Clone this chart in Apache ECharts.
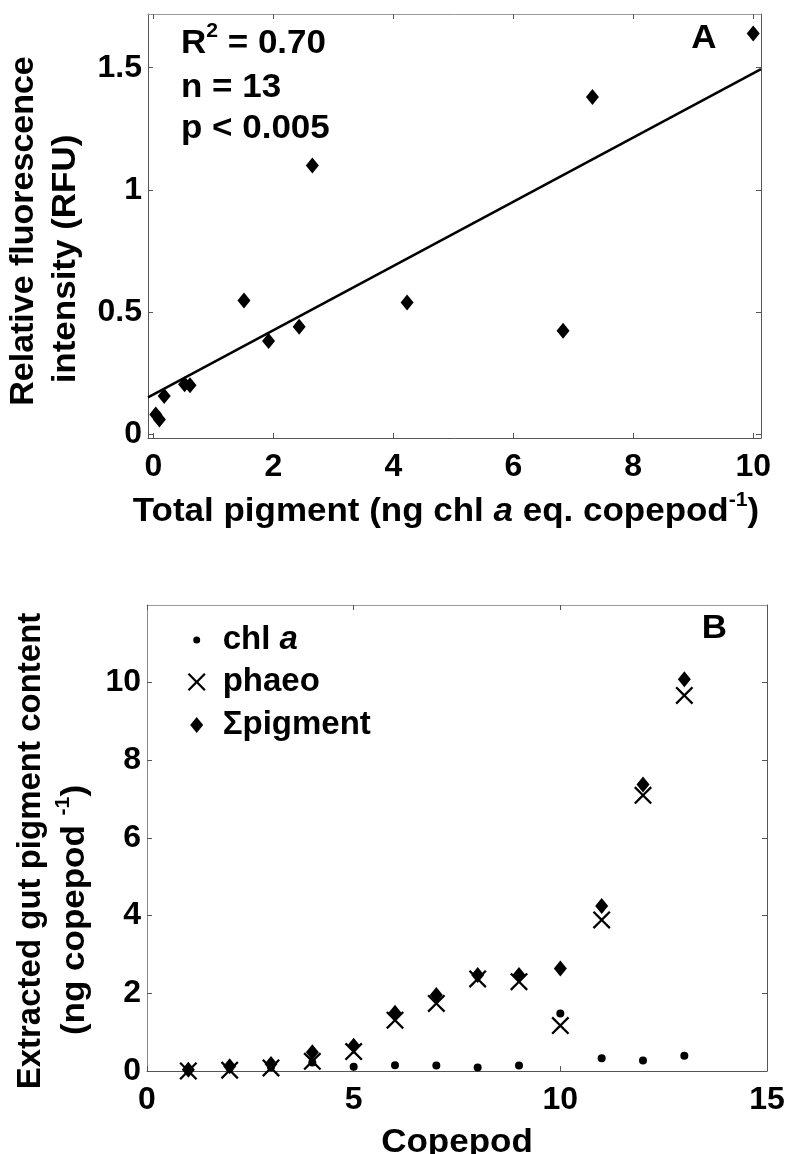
<!DOCTYPE html>
<html>
<head>
<meta charset="utf-8">
<script src="https://cdn.jsdelivr.net/npm/echarts@6/dist/echarts.min.js"></script>
<style>
  html, body { margin: 0; padding: 0; background: #fff; }
  #chart { width: 788px; height: 1154px; }
</style>
</head>
<body>
<div id="chart"></div>
<script>
// Panel A: gut fluorescence against extracted total pigment
const totalPigment = [0.04, 0.10, 0.18, 0.52, 0.61, 1.51, 1.92, 2.43, 2.65, 4.23, 6.83, 7.32, 10.0];
const fluorescence = [0.08, 0.06, 0.156, 0.204, 0.20, 0.547, 0.381, 0.44, 1.10, 0.539, 0.423, 1.38, 1.64];

// Panel B: extracted pigment per copepod
const copepod    = [1, 2, 3, 4, 5, 6, 7, 8, 9, 10, 11, 12, 13];
const chlA       = [0.03, 0.08, 0.10, 0.22, 0.11, 0.15, 0.14, 0.09, 0.14, 1.48, 0.33, 0.27, 0.39];
const phaeo      = [0.00, 0.02, 0.08, 0.25, 0.50, 1.31, 1.74, 2.37, 2.30, 1.17, 3.89, 7.10, 9.67];
const sumPigment = [0.03, 0.12, 0.18, 0.48, 0.65, 1.50, 1.96, 2.47, 2.47, 2.64, 4.25, 7.38, 10.09];

// Tick positions
const ticksAx = [0, 2, 4, 6, 8, 10];
const ticksAy = [0, 0.5, 1, 1.5];
const ticksBx = [0, 5, 10, 15];
const ticksBy = [0, 2, 4, 6, 8, 10];

const FONT = '"Liberation Sans", Arial, Helvetica, sans-serif';
const TICK_SIZE = 32;
const TITLE_SIZE = 33;
const TEXT_STRETCH = 1.06;

// Axis limits
const A_X = [-0.09, 10.13];
const A_Y = [-0.016, 1.72];
const B_X = [0, 15];
const B_Y = [0, 12];

// Least-squares fit for panel A
function linearFit(xs, ys) {
  const n = xs.length;
  const mx = xs.reduce((s, v) => s + v, 0) / n;
  const my = ys.reduce((s, v) => s + v, 0) / n;
  let sxy = 0, sxx = 0;
  for (let i = 0; i < n; i++) {
    sxy += (xs[i] - mx) * (ys[i] - my);
    sxx += (xs[i] - mx) * (xs[i] - mx);
  }
  const slope = sxy / sxx;
  return { slope, intercept: my - slope * mx };
}
const fit = linearFit(totalPigment, fluorescence);
const fitLine = A_X.map(x => [x, fit.intercept + fit.slope * x]);

// Marker shapes
const CROSS = 'path://M0,1.8L1.8,0L10,8.2L18.2,0L20,1.8L11.8,10L20,18.2L18.2,20L10,11.8L1.8,20L0,18.2L8.2,10Z';
const DIAMOND = 'path://M6.5,0L13,8L6.5,16L0,8Z';

function makeAxis(kind, position, gridIndex, range, ticks, showLabel, lineColor) {
  const isX = kind === 'x';
  return {
    type: 'value',
    gridIndex: gridIndex,
    position: position,
    min: range[0],
    max: range[1],
    splitLine: { show: false },
    axisLine: { show: true, onZero: false, lineStyle: { color: lineColor, width: 1 } },
    axisTick: { show: true, inside: true, length: 5, customValues: ticks,
                lineStyle: { color: '#555', width: 1 } },
    axisLabel: {
      show: showLabel,
      customValues: ticks,
      margin: isX ? 13 : 6,
      color: '#000',
      fontFamily: FONT,
      fontSize: TICK_SIZE,
      fontWeight: 'bold'
    }
  };
}

const textBase = { fontFamily: FONT, fontWeight: 'bold', fill: '#000' };
const richSup = {
  s: { fontFamily: FONT, fontWeight: 'bold', fill: '#000', fontSize: 20, lineHeight: 20, verticalAlign: 'top' },
  i: { fontFamily: FONT, fontWeight: 'bold', fontStyle: 'italic', fill: '#000', fontSize: TITLE_SIZE, lineHeight: 44 }
};

function label(text, x, y, opts) {
  opts = opts || {};
  return {
    type: 'text',
    x: x, y: y,
    rotation: opts.rotation || 0,
    scaleX: opts.stretch || TEXT_STRETCH,
    z: 100,
    style: Object.assign({}, textBase, {
      text: text,
      fontSize: opts.size || TITLE_SIZE,
      lineHeight: 44,
      align: opts.align || 'center',
      verticalAlign: 'middle',
      rich: richSup
    })
  };
}

// One legend block per entry so every icon keeps its own size
const LEGEND_ICON_X = 196.7;
const LEGEND_BOX = 42;
function legendEntry(name, icon, iconW, iconH, top) {
  return {
    orient: 'horizontal',
    padding: 0,
    itemGap: 0,
    selectedMode: false,
    symbolKeepAspect: true,
    left: LEGEND_ICON_X - iconW / 2,
    top: top,
    itemWidth: LEGEND_BOX,
    itemHeight: iconH,
    data: [{ name: name, icon: icon, itemStyle: { color: '#000', opacity: 1 } }],
    formatter: n => (n === 'chl a' ? 'chl {i|a}' : n),
    textStyle: {
      fontFamily: FONT, fontSize: TITLE_SIZE, fontWeight: 'bold', color: '#000', lineHeight: 36,
      rich: { i: { fontFamily: FONT, fontSize: TITLE_SIZE, fontWeight: 'bold', fontStyle: 'italic', color: '#000', lineHeight: 36 } }
    }
  };
}

const markerStyle = { color: '#000', opacity: 1 };

const option = {
  backgroundColor: '#fff',
  animation: false,
  grid: [
    { left: 148, top: 14, width: 613, height: 424, outerBoundsMode: 'none', containLabel: false },
    { left: 147, top: 605, width: 620, height: 466, outerBoundsMode: 'none', containLabel: false }
  ],
  xAxis: [
    makeAxis('x', 'bottom', 0, A_X, ticksAx, true, '#555'),
    makeAxis('x', 'top', 0, A_X, ticksAx, false, '#999'),
    makeAxis('x', 'bottom', 1, B_X, ticksBx, true, '#555'),
    makeAxis('x', 'top', 1, B_X, ticksBx, false, '#999')
  ],
  yAxis: [
    makeAxis('y', 'left', 0, A_Y, ticksAy, true, '#555'),
    makeAxis('y', 'right', 0, A_Y, ticksAy, false, '#555'),
    makeAxis('y', 'left', 1, B_Y, ticksBy, true, '#888'),
    makeAxis('y', 'right', 1, B_Y, ticksBy, false, '#555')
  ],
  legend: [
    legendEntry('chl a', 'circle', 7, 7, 622),
    legendEntry('phaeo', CROSS, 18, 18, 664),
    legendEntry('Σpigment', DIAMOND, 13, 16, 707)
  ],
  series: [
    {
      name: 'fit', type: 'line', xAxisIndex: 0, yAxisIndex: 0,
      data: fitLine, symbol: 'none', clip: true, z: 1,
      lineStyle: { color: '#000', width: 2.5 }
    },
    {
      name: 'samples', type: 'scatter', xAxisIndex: 0, yAxisIndex: 0, z: 2,
      data: totalPigment.map((x, i) => [x, fluorescence[i]]),
      symbol: DIAMOND, symbolSize: [13, 16],
      itemStyle: markerStyle
    },
    {
      name: 'chl a', type: 'scatter', xAxisIndex: 2, yAxisIndex: 2, z: 2,
      data: copepod.map((c, i) => [c, chlA[i]]),
      symbol: 'circle', symbolSize: 8,
      itemStyle: markerStyle
    },
    {
      name: 'phaeo', type: 'scatter', xAxisIndex: 2, yAxisIndex: 2, z: 3,
      data: copepod.map((c, i) => [c, phaeo[i]]),
      symbol: CROSS, symbolSize: 18,
      itemStyle: markerStyle
    },
    {
      name: 'Σpigment', type: 'scatter', xAxisIndex: 2, yAxisIndex: 2, z: 4,
      data: copepod.map((c, i) => [c, sumPigment[i]]),
      symbol: DIAMOND, symbolSize: [13, 16],
      itemStyle: markerStyle
    }
  ],
  graphic: [
    // panel A annotations
    label('R{s|2} = 0.70', 181, 43.5, { align: 'left' }),
    label('n = 13', 181, 87.5, { align: 'left' }),
    label('p < 0.005', 181, 129, { align: 'left' }),
    label('A', 704, 39),
    label('Total pigment (ng chl {i|a} eq. copepod{s|-1})', 446, 512),
    label('Relative fluorescence', 24, 231, { rotation: Math.PI / 2, stretch: 1.03 }),
    label('intensity (RFU)', 66, 259, { rotation: Math.PI / 2 }),
    // panel B annotations
    label('B', 714.5, 628.5),
    label('Copepod', 457, 1143),
    label('Extracted gut pigment content', 31, 851, { rotation: Math.PI / 2, stretch: 1.0 }),
    label('(ng copepod {s|-1})', 75, 910, { rotation: Math.PI / 2 })
  ]
};

const chart = echarts.init(document.getElementById('chart'), null, { renderer: 'canvas' });
chart.setOption(option);
</script>
</body>
</html>
